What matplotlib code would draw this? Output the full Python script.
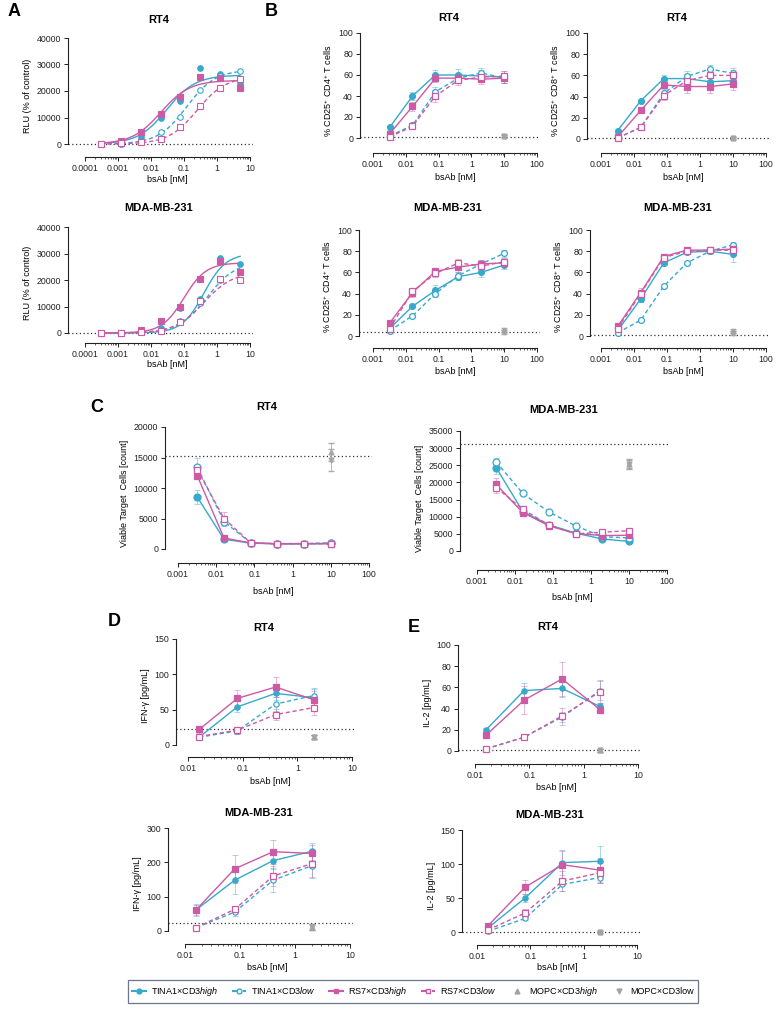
import numpy as np
import matplotlib
matplotlib.use("Agg")
import matplotlib.pyplot as plt
from matplotlib.ticker import FixedLocator, NullFormatter, FixedFormatter
from matplotlib.lines import Line2D

plt.rcParams['font.family'] = ['Liberation Sans', 'DejaVu Sans']
plt.rcParams['mathtext.fontset'] = 'custom'
plt.rcParams['mathtext.rm'] = 'Liberation Sans'
plt.rcParams['mathtext.it'] = 'Liberation Sans:italic'
plt.rcParams['mathtext.bf'] = 'Liberation Sans:bold'

W, H = 780, 1009
CY = '#36A9CC'
MG = '#CC5AA5'
GR = '#A3A3A3'

# ---------------- data ----------------
conc_a = [0.0003, 0.0012, 0.0049, 0.0195, 0.078, 0.3125, 1.25, 5]
conc_bc = [0.0032, 0.016, 0.08, 0.4, 2, 10]
conc_de = [0.016, 0.08, 0.4, 2]
mopc_x = [10]
mopc_x_de = [2]

# A: RLU (RT4)
a_rt4_tina_hi = [0, 0, 2500, 10000, 16200, 28500, 26500, 22500]
a_rt4_tina_lo = [0, 0, 800, 4500, 10200, 20500, 25500, 27500]
a_rt4_rs7_hi = [0, 1200, 4500, 11200, 17800, 25400, 24800, 21000]
a_rt4_rs7_lo = [0, 200, 700, 2000, 6300, 14500, 21200, 24700]
a_rt4_fit_top = [26000, 28000, 24000, 25500]
a_rt4_fit_ec50 = [0.03, 0.12, 0.02, 0.25]
a_rt4_fit_hill = [1.0, 1.0, 1.0, 1.0]
# A: RLU (MDA-MB-231)
a_mda_tina_hi = [0, 0, 500, 2000, 9500, 13000, 28300, 26200]
a_mda_tina_lo = [0, 0, 300, 800, 4700, 11500, 20000, 23200]
a_mda_rs7_hi = [0, 100, 1000, 4500, 10000, 20300, 27300, 23200]
a_mda_rs7_lo = [0, 0, 400, 800, 4000, 12000, 20500, 20000]
a_mda_fit_top = [30000, 27000, 26500, 23000]
a_mda_fit_ec50 = [0.4, 0.5, 0.1, 0.4]
a_mda_fit_hill = [1.3, 1.0, 1.3, 1.0]

# B: CD25+ CD4+ RT4
b4r_tina_hi = [10, 40, 60, 60, 59, 58]; b4r_tina_hi_e = [2, 4, 5, 6, 6, 6]
b4r_tina_lo = [2, 12, 44, 57, 62, 57]; b4r_tina_lo_e = [1, 2, 5, 5, 5, 5]
b4r_rs7_hi = [4, 30, 57, 57, 56, 57]; b4r_rs7_hi_e = [2, 4, 4, 4, 5, 5]
b4r_rs7_lo = [1, 11, 40, 55, 58, 59]; b4r_rs7_lo_e = [1, 2, 6, 5, 5, 5]
b4r_mopc = [2, 2]; b4r_base = 1
# B: CD25+ CD8+ RT4
b8r_tina_hi = [8, 36, 57, 57, 54, 55]; b8r_tina_hi_e = [1, 2, 3, 4, 4, 5]
b8r_tina_lo = [1, 11, 43, 59, 66, 62]; b8r_tina_lo_e = [1, 2, 4, 5, 4, 5]
b8r_rs7_hi = [2, 27, 51, 49.5, 49.5, 52]; b8r_rs7_hi_e = [1, 2, 3, 6, 6, 6]
b8r_rs7_lo = [1, 11, 41, 55, 60, 60]; b8r_rs7_lo_e = [1, 2, 4, 5, 5, 5]
b8r_mopc = [1, 1]; b8r_base = 0.5
# B: CD25+ CD4+ MDA-MB-231
b4m_tina_hi = [7, 28, 43, 56, 60, 67]; b4m_tina_hi_e = [1, 2, 5, 3, 4, 4]
b4m_tina_lo = [5, 19, 40, 57, 68, 78]; b4m_tina_lo_e = [1, 2, 3, 3, 4, 3]
b4m_rs7_hi = [12, 41, 61, 65, 68, 69]; b4m_rs7_hi_e = [2, 4, 2, 5, 4, 3]
b4m_rs7_lo = [7, 42, 59, 69, 66, 70]; b4m_rs7_lo_e = [1, 3, 3, 4, 3, 4]
b4m_mopc = [6, 4]; b4m_base = 3.5
# B: CD25+ CD8+ MDA-MB-231
b8m_tina_hi = [5, 35, 69, 79, 80, 77]; b8m_tina_hi_e = [1, 3, 2, 2, 2, 7]
b8m_tina_lo = [3, 15, 47, 69, 80, 86]; b8m_tina_lo_e = [1, 1, 2, 2, 2, 3]
b8m_rs7_hi = [9, 41, 75, 81, 81, 82]; b8m_rs7_hi_e = [2, 4, 2, 2, 2, 3]
b8m_rs7_lo = [7, 40, 74, 80, 81, 81]; b8m_rs7_lo_e = [1, 3, 2, 2, 2, 3]
b8m_mopc = [5, 3]; b8m_base = 0.5

# C: viable target cells RT4
cr_tina_hi = [8500, 1600, 950, 850, 850, 950]; cr_tina_hi_e = [1200, 300, 150, 100, 100, 150]
cr_tina_lo = [13400, 4500, 1000, 900, 900, 1000]; cr_tina_lo_e = [1500, 800, 150, 100, 100, 150]
cr_rs7_hi = [12000, 1800, 1000, 850, 850, 850]; cr_rs7_hi_e = [600, 300, 150, 100, 100, 100]
cr_rs7_lo = [13000, 5000, 1000, 850, 900, 850]; cr_rs7_lo_e = [800, 1000, 150, 100, 100, 100]
cr_mopc = [15900, 14600]; cr_mopc_e = [1400, 1800]; cr_base = 15300
# C: viable target cells MDA-MB-231
cm_tina_hi = [24300, 11500, 7600, 5200, 3500, 2800]; cm_tina_hi_e = [1800, 600, 400, 300, 300, 300]
cm_tina_lo = [26000, 16800, 11300, 7300, 4200, 3800]; cm_tina_lo_e = [1000, 500, 400, 300, 300, 300]
cm_rs7_hi = [19400, 11200, 7300, 5100, 4500, 4600]; cm_rs7_hi_e = [2000, 500, 400, 300, 400, 400]
cm_rs7_lo = [18500, 12200, 7500, 5000, 5500, 5900]; cm_rs7_lo_e = [1500, 500, 400, 400, 400, 500]
cm_mopc = [25300, 25300]; cm_mopc_e = [1200, 1500]; cm_base = 31200

# D: IFN-gamma
dr_tina_hi = [11, 54, 73, 67]; dr_tina_hi_e = [3, 8, 10, 12]
dr_tina_lo = [11, 20, 58, 70]; dr_tina_lo_e = [2, 4, 10, 10]
dr_rs7_hi = [22, 66, 82, 64]; dr_rs7_hi_e = [5, 12, 14, 12]
dr_rs7_lo = [12, 21, 43, 53]; dr_rs7_lo_e = [2, 5, 8, 10]
dr_mopc = [11, 11]; dr_mopc_e = [3, 3]; dr_base = 23
dm_tina_hi = [62, 148, 205, 232]; dm_tina_hi_e = [18, 40, 25, 25]
dm_tina_lo = [10, 55, 148, 190]; dm_tina_lo_e = [5, 10, 35, 35]
dm_rs7_hi = [62, 181, 231, 226]; dm_rs7_hi_e = [15, 40, 35, 25]
dm_rs7_lo = [10, 63, 160, 196]; dm_rs7_lo_e = [5, 10, 30, 40]
dm_mopc = [12, 12]; dm_mopc_e = [8, 8]; dm_base = 22

# E: IL-2
er_tina_hi = [20, 57, 59, 42]; er_tina_hi_e = [2, 7, 8, 3]
er_tina_lo = [2, 13, 32, 57]; er_tina_lo_e = [1, 2, 5, 9]
er_rs7_hi = [15, 48, 68, 39]; er_rs7_hi_e = [2, 13, 16, 3]
er_rs7_lo = [2, 13, 33, 56]; er_rs7_lo_e = [1, 2, 8, 11]
er_mopc = [0.5, 0.5]; er_mopc_e = [1, 1]; er_base = 0.5
em_tina_hi = [6, 50, 102, 104]; em_tina_hi_e = [2, 6, 18, 23]
em_tina_lo = [1, 20, 70, 80]; em_tina_lo_e = [1, 3, 10, 8]
em_rs7_hi = [9, 66, 99, 91]; em_rs7_hi_e = [2, 10, 20, 18]
em_rs7_lo = [3, 28, 75, 87]; em_rs7_lo_e = [1, 6, 15, 15]
em_mopc = [0, 0]; em_mopc_e = [2, 2]; em_base = 0

legend_labels = [r'TINA1×CD3$\it{high}$', r'TINA1×CD3$\it{low}$', r'RS7×CD3$\it{high}$',
                 r'RS7×CD3$\it{low}$', r'MOPC×CD3$\it{high}$', 'MOPC×CD3low']

# ---------------- figure ----------------
fig = plt.figure(figsize=(W / 100, H / 100), dpi=100)

STY = [dict(color=CY, marker='o', ls='-', mfc=CY),
       dict(color=CY, marker='o', ls='--', mfc='white'),
       dict(color=MG, marker='s', ls='-', mfc=MG),
       dict(color=MG, marker='s', ls='--', mfc='white')]


def make_ax(spine_x, xlo_px, xhi_px, xlo, xhi, ytop_px, ytop, y0_px, xax_px, yticks,
            xticks, title, ylabel, title_y, xlabel_y):
    dpp = (np.log10(xhi) - np.log10(xlo)) / (xhi_px - xlo_px)
    left_val = 10 ** (np.log10(xlo) - (xlo_px - spine_x) * dpp)
    right_px = xhi_px + 3
    right_val = 10 ** (np.log10(xhi) + 3 * dpp)
    upp = ytop / (y0_px - ytop_px)
    bottom_val = -(xax_px - y0_px) * upp
    top_px = ytop_px - 4
    top_val = ytop + 4 * upp
    ax = fig.add_axes([spine_x / W, 1 - xax_px / H, (right_px - spine_x) / W,
                       (xax_px - top_px) / H])
    ax.set_xscale('log')
    ax.set_xlim(left_val, right_val)
    ax.set_ylim(bottom_val, top_val)
    for s in ['top', 'right']:
        ax.spines[s].set_visible(False)
    ax.spines['left'].set_bounds(0, ytop)
    ax.spines['bottom'].set_bounds(xlo, xhi)
    for s in ['left', 'bottom']:
        ax.spines[s].set_linewidth(0.8)
        ax.spines[s].set_color('#222222')
    ax.set_yticks(yticks)
    ax.set_yticklabels([f'{v:g}' for v in yticks])
    ax.xaxis.set_major_locator(FixedLocator(xticks))
    ax.xaxis.set_major_formatter(FixedFormatter([f'{v:g}' if v >= 0.001 else '0.0001' for v in xticks]))
    mins = []
    for d in xticks[:-1]:
        mins += [d * k for k in range(2, 10)]
    ax.xaxis.set_minor_locator(FixedLocator(mins))
    ax.xaxis.set_minor_formatter(NullFormatter())
    ax.tick_params(axis='both', which='major', labelsize=6.3, length=3, width=0.7,
                   pad=2, colors='#222222')
    ax.tick_params(axis='x', which='minor', length=1.6, width=0.5, colors='#222222')
    ax.set_ylabel(ylabel, fontsize=6.5, labelpad=3)
    ax.patch.set_alpha(0)
    cx = (spine_x + xhi_px) / 2
    fig.text(cx / W, 1 - title_y / H, title, ha='center', va='center', fontsize=8,
             fontweight='bold')
    fig.text((xlo_px + xhi_px) / 2 / W, 1 - xlabel_y / H, 'bsAb [nM]', ha='center',
             va='center', fontsize=6.5)
    return ax


def four_pl(x, top, ec50, hill):
    return top / (1 + (ec50 / x) ** hill)


def draw_a(ax, series, tops, ec50s, hills):
    xx = np.logspace(np.log10(conc_a[0]), np.log10(conc_a[-1]), 200)
    for y, st, t, e, h in zip(series, STY, tops, ec50s, hills):
        ax.plot(xx, four_pl(xx, t, e, h), color=st['color'], ls=st['ls'], lw=1.0,
                dashes=(3, 2) if st['ls'] == '--' else (None, None), zorder=3)
        ax.plot(conc_a, y, ls='none', marker=st['marker'], color=st['color'],
                mfc=st['mfc'], ms=4.0, mew=0.8, zorder=4)
    ax.axhline(0, ls=(0, (1, 2)), color='#333333', lw=0.9, zorder=1)


def draw_series(ax, x, series, errs, mx, mopc, mopc_e, base, ms=4.2):
    for y, e, st in zip(series, errs, STY):
        ax.errorbar(x, y, yerr=e, ls='none', color=st['color'], elinewidth=0.6,
                    capsize=2, capthick=0.6, alpha=0.5, zorder=2)
        kw = dict(dashes=(3, 2)) if st['ls'] == '--' else {}
        ax.plot(x, y, ls=st['ls'], color=st['color'], lw=1.0, marker=st['marker'],
                mfc=st['mfc'], mec=st['color'], ms=ms, mew=0.9, zorder=4, **kw)
    ax.errorbar(mx, [mopc[0]], yerr=[mopc_e[0]], ls='none', color=GR, marker='^',
                ms=3.5, elinewidth=0.6, capsize=2, alpha=0.9, zorder=3)
    ax.errorbar(mx, [mopc[1]], yerr=[mopc_e[1]], ls='none', color=GR, marker='v',
                ms=3.5, elinewidth=0.6, capsize=2, alpha=0.9, zorder=3)
    ax.axhline(base, ls=(0, (1, 2)), color='#333333', lw=0.9, zorder=1)


xt_a = [0.0001, 0.001, 0.01, 0.1, 1, 10]
xt_b = [0.001, 0.01, 0.1, 1, 10, 100]
xt_d = [0.01, 0.1, 1, 10]

# Panel A
ax = make_ax(68, 85, 250, 1e-4, 10, 38, 40000, 144, 157, [0, 10000, 20000, 30000, 40000],
             xt_a, 'RT4', 'RLU (% of control)', 20, 180)
draw_a(ax, [a_rt4_tina_hi, a_rt4_tina_lo, a_rt4_rs7_hi, a_rt4_rs7_lo],
       a_rt4_fit_top, a_rt4_fit_ec50, a_rt4_fit_hill)
ax = make_ax(68, 85, 250, 1e-4, 10, 227, 40000, 333, 343, [0, 10000, 20000, 30000, 40000],
             xt_a, 'MDA-MB-231', 'RLU (% of control)', 208, 365)
draw_a(ax, [a_mda_tina_hi, a_mda_tina_lo, a_mda_rs7_hi, a_mda_rs7_lo],
       a_mda_fit_top, a_mda_fit_ec50, a_mda_fit_hill)

# Panel B
yb = [0, 20, 40, 60, 80, 100]
lab4 = r'% CD25$^{+}$ CD4$^{+}$ T cells'
lab8 = r'% CD25$^{+}$ CD8$^{+}$ T cells'
ax = make_ax(360, 373, 537, 1e-3, 100, 33, 100, 138, 153, yb, xt_b, 'RT4', lab4, 18, 178)
draw_series(ax, conc_bc, [b4r_tina_hi, b4r_tina_lo, b4r_rs7_hi, b4r_rs7_lo],
            [b4r_tina_hi_e, b4r_tina_lo_e, b4r_rs7_hi_e, b4r_rs7_lo_e], mopc_x, b4r_mopc, [1, 1], b4r_base)
ax = make_ax(587, 601, 766, 1e-3, 100, 33, 100, 139, 153, yb, xt_b, 'RT4', lab8, 18, 178)
draw_series(ax, conc_bc, [b8r_tina_hi, b8r_tina_lo, b8r_rs7_hi, b8r_rs7_lo],
            [b8r_tina_hi_e, b8r_tina_lo_e, b8r_rs7_hi_e, b8r_rs7_lo_e], mopc_x, b8r_mopc, [1, 1], b8r_base)
ax = make_ax(359, 373, 537, 1e-3, 100, 230, 100, 336, 348, yb, xt_b, 'MDA-MB-231', lab4, 208, 372)
draw_series(ax, conc_bc, [b4m_tina_hi, b4m_tina_lo, b4m_rs7_hi, b4m_rs7_lo],
            [b4m_tina_hi_e, b4m_tina_lo_e, b4m_rs7_hi_e, b4m_rs7_lo_e], mopc_x, b4m_mopc, [2, 2], b4m_base)
ax = make_ax(590, 601, 766, 1e-3, 100, 230, 100, 336, 348, yb, xt_b, 'MDA-MB-231', lab8, 208, 372)
draw_series(ax, conc_bc, [b8m_tina_hi, b8m_tina_lo, b8m_rs7_hi, b8m_rs7_lo],
            [b8m_tina_hi_e, b8m_tina_lo_e, b8m_rs7_hi_e, b8m_rs7_lo_e], mopc_x, b8m_mopc, [2, 2], b8m_base)

# Panel C
labc = 'Viable Target  Cells [count]'
ax = make_ax(165, 178, 369, 1e-3, 100, 427, 20000, 549, 563, [0, 5000, 10000, 15000, 20000],
             xt_b, 'RT4', labc, 407, 592)
draw_series(ax, conc_bc, [cr_tina_hi, cr_tina_lo, cr_rs7_hi, cr_rs7_lo],
            [cr_tina_hi_e, cr_tina_lo_e, cr_rs7_hi_e, cr_rs7_lo_e], mopc_x, cr_mopc, cr_mopc_e, cr_base, ms=5)
ax = make_ax(460, 477, 667, 1e-3, 100, 431, 35000, 551, 570,
             [0, 5000, 10000, 15000, 20000, 25000, 30000, 35000],
             xt_b, 'MDA-MB-231', labc, 410, 598)
draw_series(ax, conc_bc, [cm_tina_hi, cm_tina_lo, cm_rs7_hi, cm_rs7_lo],
            [cm_tina_hi_e, cm_tina_lo_e, cm_rs7_hi_e, cm_rs7_lo_e], mopc_x, cm_mopc, cm_mopc_e, cm_base, ms=5)

# Panel D
ax = make_ax(176, 188, 352, 0.01, 10, 639, 150, 745, 757, [0, 50, 100, 150], xt_d, 'RT4',
             'IFN-γ [pg/mL]', 628, 782)
draw_series(ax, conc_de, [dr_tina_hi, dr_tina_lo, dr_rs7_hi, dr_rs7_lo],
            [dr_tina_hi_e, dr_tina_lo_e, dr_rs7_hi_e, dr_rs7_lo_e], mopc_x_de, dr_mopc, dr_mopc_e, dr_base, ms=3.8)
ax = make_ax(168, 185, 350, 0.01, 10, 828, 300, 931, 944, [0, 100, 200, 300], xt_d, 'MDA-MB-231',
             'IFN-γ [pg/mL]', 813, 967)
draw_series(ax, conc_de, [dm_tina_hi, dm_tina_lo, dm_rs7_hi, dm_rs7_lo],
            [dm_tina_hi_e, dm_tina_lo_e, dm_rs7_hi_e, dm_rs7_lo_e], mopc_x_de, dm_mopc, dm_mopc_e, dm_base, ms=3.8)

# Panel E
ax = make_ax(458, 475, 638, 0.01, 10, 645, 100, 751, 764, [0, 20, 40, 60, 80, 100], xt_d, 'RT4',
             'IL-2 [pg/mL]', 627, 788)
draw_series(ax, conc_de, [er_tina_hi, er_tina_lo, er_rs7_hi, er_rs7_lo],
            [er_tina_hi_e, er_tina_lo_e, er_rs7_hi_e, er_rs7_lo_e], mopc_x_de, er_mopc, er_mopc_e, er_base, ms=3.8)
ax = make_ax(462, 477, 637, 0.01, 10, 830, 150, 932, 945, [0, 50, 100, 150], xt_d, 'MDA-MB-231',
             'IL-2 [pg/mL]', 815, 967)
draw_series(ax, conc_de, [em_tina_hi, em_tina_lo, em_rs7_hi, em_rs7_lo],
            [em_tina_hi_e, em_tina_lo_e, em_rs7_hi_e, em_rs7_lo_e], mopc_x_de, em_mopc, em_mopc_e, em_base, ms=3.8)

# Panel letters
for lt, (px, py) in zip('ABCDE', [(8, 12), (265, 12), (90, 408), (108, 622), (408, 627)]):
    fig.text(px / W, 1 - py / H, lt, fontsize=13, fontweight='bold', ha='left', va='center')

# Legend
handles = [Line2D([], [], color=CY, marker='o', ls='-', ms=3.5, mfc=CY),
           Line2D([], [], color=CY, marker='o', ls='--', ms=3.5, mfc='white'),
           Line2D([], [], color=MG, marker='s', ls='-', ms=3.5, mfc=MG),
           Line2D([], [], color=MG, marker='s', ls='--', ms=3.5, mfc='white'),
           Line2D([], [], color=GR, marker='^', ls='none', ms=3.5),
           Line2D([], [], color=GR, marker='v', ls='none', ms=3.5)]
leg = fig.legend(handles, legend_labels, loc='center', ncol=6, fontsize=6.5,
                 bbox_to_anchor=(123 / W, 1 - 1001 / H, (703 - 123) / W, 19 / H), mode='expand',
                 frameon=True, fancybox=False, handlelength=1.6, handletextpad=0.5,
                 columnspacing=1.0, borderpad=0.5)
leg.get_frame().set_edgecolor('#46566E')
leg.get_frame().set_linewidth(0.9)

fig.savefig('out.png', dpi=100)
